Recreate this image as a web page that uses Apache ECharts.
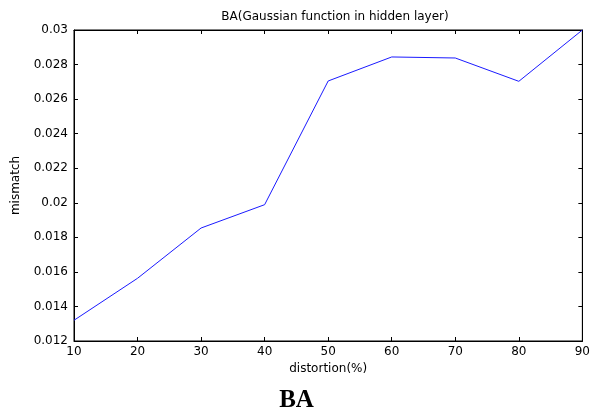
<!DOCTYPE html>
<html><head><meta charset="utf-8">
<script src="https://cdn.jsdelivr.net/npm/echarts@6/dist/echarts.min.js"></script>
<style>html,body{margin:0;padding:0;background:#fff}#c{width:593px;height:412px}</style>
</head><body><div id="c"></div>
<script>
const distortion = [10, 20, 30, 40, 50, 60, 70, 80, 90];
const mismatch = [0.0132, 0.01563, 0.01854, 0.01989, 0.02705, 0.02844, 0.02838, 0.02703, 0.0300];
const xTicks = {min: 10, max: 90, interval: 10};
const yTicks = {min: 0.012, max: 0.03, interval: 0.002};
const titleText = 'BA(Gaussian function in hidden layer)';
const xName = 'distortion(%)';
const yName = 'mismatch';
const caption = 'BA';

const font = '"DejaVu Sans", Verdana, sans-serif';
const tickStyle = {show: true, inside: true, length: 4, lineStyle: {color: '#000', width: 1}};
const lineStyle = {color: '#000', width: 1};
const chart = echarts.init(document.getElementById('c'), null, {renderer: 'canvas'});
chart.setOption({
  animation: false,
  backgroundColor: '#fff',
  title: {text: titleText, left: 330, top: 6, textAlign: 'center',
    textStyle: {fontFamily: font, fontSize: 12, fontWeight: 'normal', color: '#000'}},
  grid: {left: 74, right: 6, top: 30, bottom: 71, show: true, borderColor: '#000', borderWidth: 1},
  graphic: [{type: 'text', left: 'center', top: 388,
    style: {text: caption, font: 'bold 25px "Liberation Serif", "Times New Roman", serif', fill: '#000'}}],
  xAxis: [
    {type: 'value', min: xTicks.min, max: xTicks.max, interval: xTicks.interval, position: 'bottom',
      name: xName, nameLocation: 'middle', nameGap: 21,
      nameTextStyle: {fontFamily: font, fontSize: 12, color: '#000'},
      axisLine: {show: true, lineStyle: lineStyle}, axisTick: tickStyle, splitLine: {show: false},
      axisLabel: {fontFamily: font, fontSize: 12, color: '#000', margin: 5}},
    {type: 'value', min: xTicks.min, max: xTicks.max, interval: xTicks.interval, position: 'top',
      axisLine: {show: true, lineStyle: lineStyle}, axisTick: tickStyle, splitLine: {show: false},
      axisLabel: {show: false}}
  ],
  yAxis: [
    {type: 'value', min: yTicks.min, max: yTicks.max, interval: yTicks.interval, position: 'left',
      name: yName, nameLocation: 'middle', nameGap: 52, nameRotate: 90,
      nameTextStyle: {fontFamily: font, fontSize: 12, color: '#000'},
      axisLine: {show: true, lineStyle: lineStyle}, axisTick: tickStyle, splitLine: {show: false},
      axisLabel: {fontFamily: font, fontSize: 12, color: '#000', margin: 6,
        formatter: v => String(+v.toFixed(3))}},
    {type: 'value', min: yTicks.min, max: yTicks.max, interval: yTicks.interval, position: 'right',
      axisLine: {show: true, lineStyle: lineStyle}, axisTick: tickStyle, splitLine: {show: false},
      axisLabel: {show: false}}
  ],
  series: [{type: 'line', data: distortion.map((d, i) => [d, mismatch[i]]),
    showSymbol: false, symbol: 'none', lineStyle: {color: '#1a1aff', width: 1}}]
});
</script></body></html>
